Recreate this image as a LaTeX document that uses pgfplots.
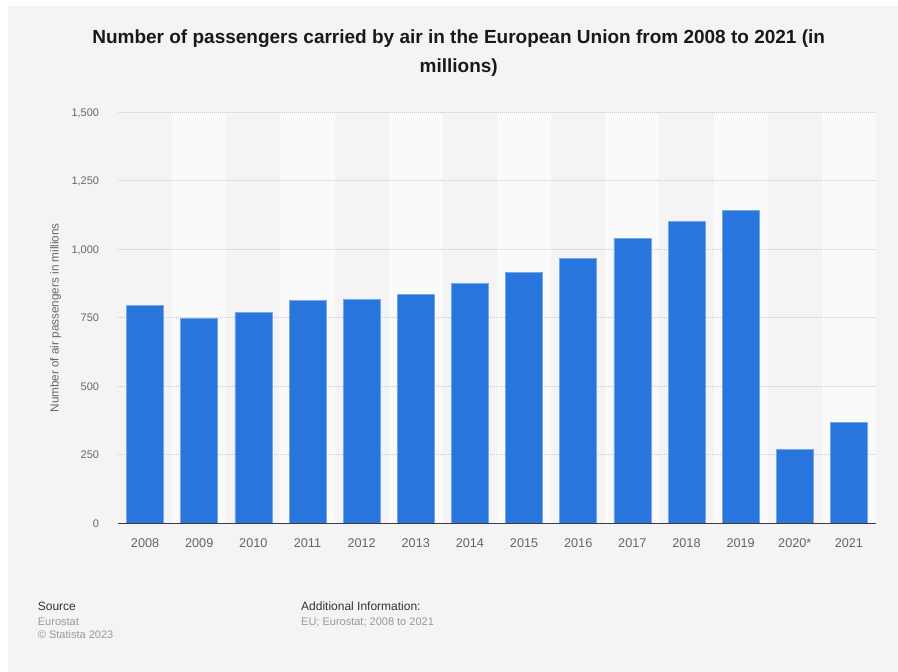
\documentclass[border=0pt]{standalone}
\usepackage{fontspec}
\setmainfont{Liberation Sans}
\usepackage{pgfplots}
\pgfplotsset{compat=1.18}
\definecolor{bgc}{HTML}{F4F4F4}
\definecolor{stripe}{HTML}{FAFAFA}
\definecolor{barc}{HTML}{2876DD}
\definecolor{baredge}{HTML}{74A6EA}
\definecolor{tickc}{HTML}{666666}
\definecolor{gridc}{HTML}{C8C8C8}
\definecolor{footc}{HTML}{999999}
\definecolor{axc}{HTML}{3C3C3C}
\begin{document}
\begin{tikzpicture}
\useasboundingbox (0pt,0pt) rectangle (898pt,672pt);
\fill[white] (0pt,0pt) rectangle (898pt,672pt);
\fill[bgc] (8pt,0pt) rectangle (898pt,666pt);
% alternating column background
\foreach \i in {1,3,5,7,9,11,13} {
  \fill[stripe] ({118+54.1429*\i*1pt},148.7pt) rectangle ({118+54.1429*(\i+1)*1pt},559.7pt);
}
% title
\node[anchor=base, inner sep=0pt, font=\fontsize{19}{23}\selectfont\bfseries, text=black!90] at (458.7pt,628pt) {Number of passengers carried by air in the European Union from 2008 to 2021 (in};
\node[anchor=base, inner sep=0pt, font=\fontsize{19}{23}\selectfont\bfseries, text=black!90] at (458.7pt,599pt) {millions)};
\begin{axis}[
  at={(118pt,148.7pt)}, anchor=south west,
  scale only axis, width=758pt, height=411pt,
  ybar, bar width=37pt,
  xmin=-0.5, xmax=13.5, ymin=0, ymax=1500,
  enlarge x limits=false,
  xtick={0,1,2,3,4,5,6,7,8,9,10,11,12,13},
  xticklabels={2008,2009,2010,2011,2012,2013,2014,2015,2016,2017,2018,2019,2020*,2021},
  ytick={0,250,500,750,1000,1250,1500},
  major tick length=0pt,
  axis line style={draw=none},
  ymajorgrids,
  grid style={dash pattern=on 0.7pt off 1.3pt, color=gridc, line width=0.7pt},
  /pgf/number format/1000 sep={,},
  /pgf/number format/assume math mode=true,
  xticklabel style={anchor=base, inner sep=0pt, yshift=-23.9pt, text=tickc, font=\fontsize{12.7}{14}\selectfont},
  yticklabel style={anchor=base east, inner sep=0pt, xshift=-18.7pt, yshift=-3.9pt, text=tickc, font=\fontsize{11}{13}\selectfont},
  ylabel={Number of air passengers in millions},
  every axis y label/.style={at={(axis description cs:-0.0822,0.5)}, rotate=90, anchor=center, text=tickc, font=\fontsize{11.7}{14}\selectfont},
]
\addplot[fill=barc, draw=baredge, line width=0.6pt] coordinates {
(0,796) (1,748) (2,770) (3,814) (4,818) (5,836) (6,875)
(7,915) (8,967) (9,1040) (10,1102) (11,1141) (12,271) (13,367)};
\draw[axc, line width=1.3pt] (axis cs:-0.5,0) -- (axis cs:13.5,0);
\end{axis}
% footer
\node[anchor=base west, inner sep=0pt, font=\fontsize{12}{14}\selectfont, text=black!80] at (37.7pt,61pt) {Source};
\node[anchor=base west, inner sep=0pt, font=\fontsize{11}{13}\selectfont, text=footc] at (37.7pt,46pt) {Eurostat};
\node[anchor=base west, inner sep=0pt, font=\fontsize{11}{13}\selectfont, text=footc] at (37.7pt,33pt) {© Statista 2023};
\node[anchor=base west, inner sep=0pt, font=\fontsize{12}{14}\selectfont, text=black!80] at (301pt,61pt) {Additional Information:};
\node[anchor=base west, inner sep=0pt, font=\fontsize{11}{13}\selectfont, text=footc] at (301pt,46pt) {EU; Eurostat; 2008 to 2021};
\end{tikzpicture}
\end{document}
